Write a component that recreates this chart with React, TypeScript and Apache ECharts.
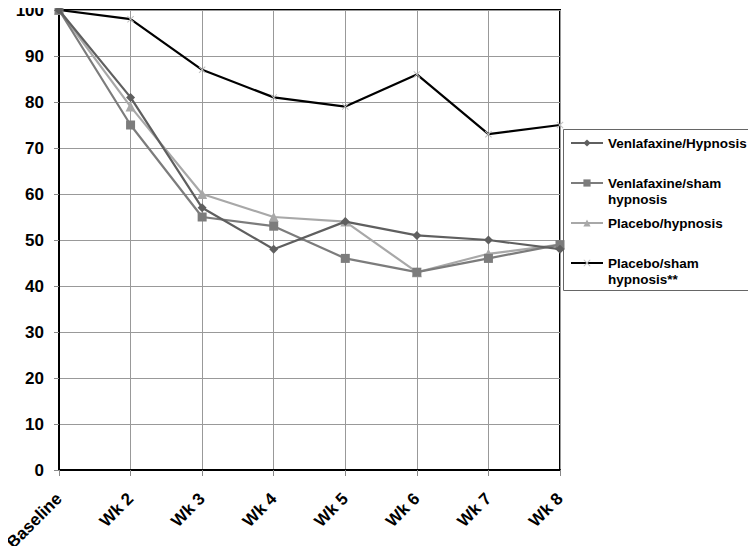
import React, { useEffect, useRef } from "react";
import * as echarts from "echarts";

const categories = ["Baseline", "Wk 2", "Wk 3", "Wk 4", "Wk 5", "Wk 6", "Wk 7", "Wk 8"];
const venlafaxineHypnosis = [100, 81, 57, 48, 54, 51, 50, 48];
const venlafaxineSham = [100, 75, 55, 53, 46, 43, 46, 49];
const placeboHypnosis = [100, 79, 60, 55, 54, 43, 47, 49];
const placeboSham = [100, 98, 87, 81, 79, 86, 73, 75];
const seriesNames = [
  "Venlafaxine/Hypnosis",
  "Venlafaxine/sham\nhypnosis",
  "Placebo/hypnosis",
  "Placebo/sham\nhypnosis**",
];

const FONT = "Liberation Sans, Arial, sans-serif";
const X_SYMBOL =
  "path://M0,1L1,0L5,4L9,0L10,1L6,5L10,9L9,10L5,6L1,10L0,9L4,5Z";

export default function App() {
  const ref = useRef<HTMLDivElement>(null);
  useEffect(() => {
    if (!ref.current) return;
    const chart = echarts.init(ref.current, undefined, { renderer: "svg" });
    const colors = ["#5f5f5f", "#7c7c7c", "#a8a8a8", "#000000"];
    const legendTops = [130, 154, 210, 234];
    const mk = (i: number, data: number[], symbol: string, size: number, symColor?: string) => ({
      name: seriesNames[i],
      type: "line",
      data,
      symbol,
      symbolSize: size,
      showSymbol: true,
      lineStyle: { color: colors[i], width: 2.2 },
      itemStyle: { color: symColor || colors[i] },
      z: 10 - i,
    });
    chart.setOption({
      animation: false,
      backgroundColor: "#ffffff",
      grid: {
        left: 59,
        top: 10,
        right: 196,
        bottom: 84,
        show: true,
        borderColor: "#000",
        borderWidth: 2,
        outerBoundsMode: "none",
        containLabel: false,
      },
      legend: seriesNames.map((n, i) => ({
        data: [n],
        orient: "vertical",
        left: 565,
        top: legendTops[i],
        itemWidth: 32,
        itemHeight: 9,
        itemGap: 0,
        formatter: (name: string) => (name.indexOf("\n") >= 0 ? " \n" + name : name),
        textStyle: {
          fontFamily: FONT,
          fontWeight: "bold",
          fontSize: 13.5,
          color: "#000",
          lineHeight: 16,
        },
        selectedMode: false,
      })),
      graphic: [
        {
          type: "rect",
          shape: { x: 563.5, y: 129.5, width: 190, height: 161 },
          style: { fill: "none", stroke: "#666", lineWidth: 1 },
        },
      ],
      xAxis: {
        type: "category",
        data: categories,
        boundaryGap: false,
        axisLine: { lineStyle: { color: "#000", width: 2 } },
        axisTick: { show: true, length: 6, lineStyle: { color: "#888" } },
        splitLine: { show: true, lineStyle: { color: "#999", width: 1 } },
        axisLabel: {
          rotate: 45,
          fontFamily: FONT,
          fontWeight: "bold",
          fontSize: 17,
          color: "#000",
          margin: 26,
        },
      },
      yAxis: {
        type: "value",
        min: 0,
        max: 100,
        interval: 10,
        axisLine: { show: true, lineStyle: { color: "#000", width: 2 } },
        axisTick: { show: true, length: 5, lineStyle: { color: "#888" } },
        splitLine: { show: true, lineStyle: { color: "#999", width: 1 } },
        axisLabel: {
          fontFamily: FONT,
          fontWeight: "bold",
          fontSize: 17,
          color: "#000",
          margin: 15,
        },
      },
      series: [
        mk(0, venlafaxineHypnosis, "diamond", 9),
        mk(1, venlafaxineSham, "rect", 9),
        mk(2, placeboHypnosis, "triangle", 10),
        mk(3, placeboSham, X_SYMBOL, 7, "#c0c0c0"),
      ],
    });
    return () => chart.dispose();
  }, []);
  return <div ref={ref} style={{ width: 756, height: 554, margin: -8 }} />;
}
